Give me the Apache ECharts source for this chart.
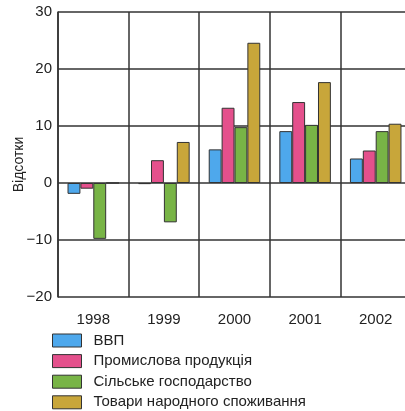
<!DOCTYPE html>
<html><head><meta charset="utf-8">
<script src="https://cdn.jsdelivr.net/npm/echarts@6/dist/echarts.min.js"></script>
<style>html,body{margin:0;padding:0;background:#fff}#c{width:405px;height:411px}</style>
</head><body><div id="c"></div>
<script>
var years = ['1998','1999','2000','2001','2002'];
var seriesNames = ['ВВП','Промислова продукція','Сільське господарство','Товари народного споживання'];
var gdp = [-1.9, -0.2, 5.9, 9.1, 4.3];
var industry = [-1.0, 4.0, 13.2, 14.2, 5.7];
var agriculture = [-9.8, -6.9, 9.8, 10.2, 9.1];
var consumer = [0, 7.2, 24.6, 17.7, 10.4];
var yTicks = [-20, -10, 0, 10, 20, 30];
var colors = ['#4ea8ec','#e4508c','#78b446','#c8a63a'];

var chart = echarts.init(document.getElementById('c'));
var data = [gdp, industry, agriculture, consumer];
var font = 'Liberation Sans, Arial, sans-serif';
chart.setOption({
  animation:false,
  grid:{left:58, right:-6, top:12, bottom:114, containLabel:false, outerBoundsMode:'none'},
  legend:{
    orient:'vertical', left:52, top:332, height:200, padding:0, itemWidth:29, itemHeight:13, itemGap:3.6,
    textStyle:{fontFamily:font, fontSize:15, color:'#222', padding:[0,0,0,7], lineHeight:17},
    data:seriesNames, icon:'rect', itemStyle:{borderColor:'#333', borderWidth:1}
  },
  xAxis:{
    type:'category', data:years,
    axisLine:{show:false}, axisTick:{show:false},
    axisLabel:{fontFamily:font, fontSize:15, color:'#222', margin:15},
    splitLine:{show:true, lineStyle:{color:'#333', width:1.5}}
  },
  yAxis:{
    type:'value', min:-20, max:30, interval:10,
    name:'Відсотки', nameLocation:'middle', nameGap:32, nameMoveOverlap:false,
    nameTextStyle:{fontFamily:font, fontSize:14, color:'#222', padding:[0,20,0,0]},
    axisLine:{show:true, lineStyle:{color:'#333', width:1.5}}, axisTick:{show:false},
    axisLabel:{fontFamily:font, fontSize:15, color:'#222', margin:6,
      formatter:function(v){return yTicks.indexOf(v)>=0 ? (v<0?'\u2212'+(-v):String(v)) : '';}},
    splitLine:{show:true, lineStyle:{color:'#333', width:1.5}}
  },
  series: seriesNames.map(function(n,i){
    return {name:n, type:'bar', data:data[i], barGap:'0%', barCategoryGap:'27%',
      itemStyle:{color:colors[i], borderColor:'#333', borderWidth:1}};
  })
});
</script></body></html>
